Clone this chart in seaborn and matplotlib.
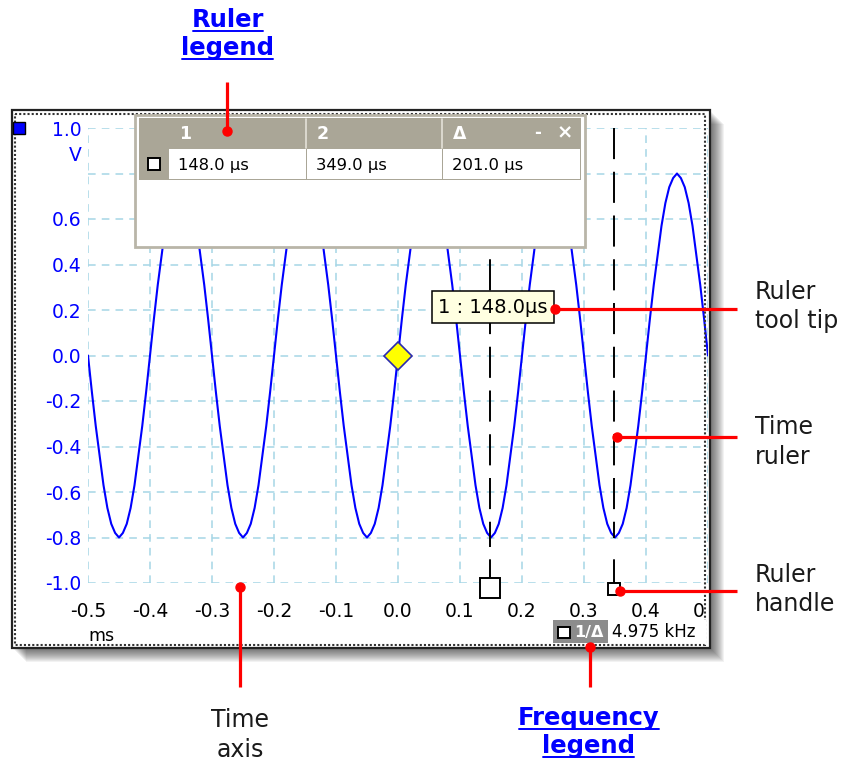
import matplotlib
matplotlib.use("Agg")
import matplotlib.pyplot as plt
import seaborn as sns
from matplotlib.patches import Rectangle
from matplotlib.transforms import Bbox, TransformedBbox

W, H = 849, 765

# waveform, one sample every 6.25 us
sample_step_ms = 0.00625
volts = [0.0, -0.16, -0.31, -0.44, -0.57, -0.67, -0.74, -0.78, -0.80, -0.78, -0.74, -0.67, -0.57, -0.44, -0.31, -0.16,
         0.0, 0.16, 0.31, 0.44, 0.57, 0.67, 0.74, 0.78, 0.80, 0.78, 0.74, 0.67, 0.57, 0.44, 0.31, 0.16,
         0.0, -0.16, -0.31, -0.44, -0.57, -0.67, -0.74, -0.78, -0.80, -0.78, -0.74, -0.67, -0.57, -0.44, -0.31, -0.16,
         0.0, 0.16, 0.31, 0.44, 0.57, 0.67, 0.74, 0.78, 0.80, 0.78, 0.74, 0.67, 0.57, 0.44, 0.31, 0.16,
         0.0, -0.16, -0.31, -0.44, -0.57, -0.67, -0.74, -0.78, -0.80, -0.78, -0.74, -0.67, -0.57, -0.44, -0.31, -0.16,
         0.0, 0.16, 0.31, 0.44, 0.57, 0.67, 0.74, 0.78, 0.80, 0.78, 0.74, 0.67, 0.57, 0.44, 0.31, 0.16,
         0.0, -0.16, -0.31, -0.44, -0.57, -0.67, -0.74, -0.78, -0.80, -0.78, -0.74, -0.67, -0.57, -0.44, -0.31, -0.16,
         0.0, 0.16, 0.31, 0.44, 0.57, 0.67, 0.74, 0.78, 0.80, 0.78, 0.74, 0.67, 0.57, 0.44, 0.31, 0.16,
         0.0, -0.16, -0.31, -0.44, -0.57, -0.67, -0.74, -0.78, -0.80, -0.78, -0.74, -0.67, -0.57, -0.44, -0.31, -0.16,
         0.0, 0.16, 0.31, 0.44, 0.57, 0.67, 0.74, 0.78, 0.80, 0.78, 0.74, 0.67, 0.57, 0.44, 0.31, 0.16,
         0.0]
time_ms = [-0.5 + i * sample_step_ms for i in range(len(volts))]

x_ticks = [-0.5, -0.4, -0.3, -0.2, -0.1, 0.0, 0.1, 0.2, 0.3, 0.4, 0.5]
x_labels = ["-0.5", "-0.4", "-0.3", "-0.2", "-0.1", "0.0", "0.1", "0.2", "0.3", "0.4", "0.5"]
y_ticks = [-1.0, -0.8, -0.6, -0.4, -0.2, 0.0, 0.2, 0.4, 0.6, 0.8, 1.0]
y_labels = ["-1.0", "-0.8", "-0.6", "-0.4", "-0.2", "0.0", "0.2", "0.4", "0.6", "", "1.0"]

trigger_time = 0.0
trigger_volt = 0.0
ruler_times = [0.148, 0.349]
ruler_header = ["1", "2", "\u0394"]
ruler_values = ["148.0 \u00b5s", "349.0 \u00b5s", "201.0 \u00b5s"]
tooltip_text = "1 : 148.0\u00b5s"
freq_label = "1/\u0394"
freq_value = "4.975 kHz"

BLUE = "#0000ff"
RED = "#ff0000"
GRID = "#a6d6e6"

sns.set_style("white")
plt.rcParams["font.family"] = ["DejaVu Sans"]

fig = plt.figure(figsize=(W / 100, H / 100), dpi=100)


def fx(px):
    return px / W


def fy(py):
    return 1 - py / H


# background: window frame + drop shadow
bg = fig.add_axes([0, 0, 1, 1], zorder=0)
bg.set_xlim(0, W)
bg.set_ylim(H, 0)
bg.axis("off")
for k in range(1, 15):
    bg.add_patch(Rectangle((12 + k, 110 + k), 698, 538, fc="black", ec="none", alpha=0.05))
bg.add_patch(Rectangle((12, 110), 698, 538, fc="white", ec="none"))

# scope plot
ax = fig.add_axes([fx(88), fy(583), fx(708) - fx(88), fy(128) - fy(583)], zorder=1)
sns.lineplot(x=time_ms, y=volts, ax=ax, color=BLUE, lw=1.5)
ax.set_xlim(-0.5, 0.5)
ax.set_ylim(-1.0, 1.0)
ax.set_xticks(x_ticks, labels=x_labels)
ax.set_yticks(y_ticks, labels=y_labels)
ax.tick_params(axis="both", length=0)
ax.tick_params(axis="y", colors=BLUE, labelsize=13.5, pad=4.5)
ax.tick_params(axis="x", colors="black", labelsize=13.5, pad=14)
ax.grid(True, color=GRID, lw=1.1, ls=(0, (5, 4)))
for s in ax.spines.values():
    s.set_visible(False)
ax.set_xlabel("")
ax.set_ylabel("")

# the last time label is cut by the window edge
clip = TransformedBbox(Bbox.from_extents(0, 0, fx(704), 1), fig.transFigure)
last = ax.xaxis.get_major_ticks()[-1].label1
last.set_clip_on(True)
last.set_clip_box(clip)

# time rulers
xt = ax.get_xaxis_transform()
ax.plot([ruler_times[0]] * 2, [1.0, 0.079], transform=xt, color="black", lw=1.4, ls=(0, (16, 6.5)), zorder=3)
ax.plot([ruler_times[1]] * 2, [1.0, 0.099], transform=xt, color="black", lw=1.4, ls=(0, (16, 6.5)), zorder=3)
ax.plot([ruler_times[0]] * 2, [0.0505, 0.011], transform=xt, color="black", lw=1.4, zorder=3, clip_on=False)
ax.plot([ruler_times[1]] * 2, [0.0505, 0.002], transform=xt, color="black", lw=1.4, zorder=3, clip_on=False)
ax.plot([ruler_times[0]], [-0.011], transform=xt, marker="s", ms=14, mfc="white", mec="black", mew=1.4,
        zorder=4, clip_on=False)
ax.plot([ruler_times[1]], [-0.013], transform=xt, marker="s", ms=8.5, mfc="white", mec="black", mew=1.4,
        zorder=4, clip_on=False)

# trigger marker
ax.plot([trigger_time], [trigger_volt], marker="D", ms=14, mfc="#ffff00", mec="#2a2ab0", mew=1.2, zorder=5)

# overlay: frame lines, legends, callouts
ov = fig.add_axes([0, 0, 1, 1], zorder=2)
ov.set_xlim(0, W)
ov.set_ylim(H, 0)
ov.axis("off")

ov.add_patch(Rectangle((12, 110), 698, 538, fc="none", ec="#222222", lw=1.6))
ov.add_patch(Rectangle((15.5, 114), 690, 530.5, fc="none", ec="#333333", lw=1.5, ls=(0, (1, 1))))
ov.add_patch(Rectangle((13, 122), 12, 12, fc=BLUE, ec="black", lw=1))
ov.text(82, 155, "V", ha="right", va="center", color=BLUE, fontsize=13.5)
ov.text(101, 636, "ms", ha="center", va="center", color="black", fontsize=12.5)

# ruler legend
ov.add_patch(Rectangle((135, 115), 450, 132, fc="white", ec="#b9b5a8", lw=2))
ov.add_patch(Rectangle((139, 118), 442, 62, fc="#aaa697", ec="none"))
cells = [(169, 306), (307, 442), (443, 580)]
for (c0, c1), head, val in zip(cells, ruler_header, ruler_values):
    ov.add_patch(Rectangle((c0, 149), c1 - c0, 30, fc="white", ec="none"))
    ov.text(c0 + 9, 165, val, ha="left", va="center", fontsize=11.8, color="black")
    ov.text(c0 + 10, 134, head, ha="left", va="center", fontsize=12.5, color="white", fontweight="bold")
for sx in [306.5, 442.5]:
    ov.plot([sx, sx], [119, 148], color="#e4e1d8", lw=1.2)
ov.text(538, 133, "-", ha="center", va="center", fontsize=12, color="white", fontweight="bold")
ov.text(565, 133, "\u00d7", ha="center", va="center", fontsize=14, color="white", fontweight="bold")
ov.add_patch(Rectangle((148, 158), 12, 12, fc="white", ec="black", lw=1.4))

# tooltip
ov.add_patch(Rectangle((432, 291), 122, 32, fc="#ffffe1", ec="black", lw=1.1))
ov.text(493, 307.5, tooltip_text, ha="center", va="center", fontsize=14, color="black")

# frequency legend
ov.add_patch(Rectangle((553, 620), 55, 23, fc="#8c8c8c", ec="none"))
ov.add_patch(Rectangle((608, 620), 98, 23, fc="white", ec="none"))
ov.add_patch(Rectangle((558, 627), 12, 11, fc="white", ec="black", lw=1.4))
ov.text(574, 632, freq_label, ha="left", va="center", fontsize=11.5, color="white", fontweight="bold")
ov.text(612, 632, freq_value, ha="left", va="center", fontsize=12, color="black")

# red callouts
callouts = [((227, 82), (227, 131)), ((737, 309), (555, 309)), ((737, 437), (617, 437)),
            ((737, 591), (620, 591)), ((240, 687), (240, 587)), ((590, 687), (590, 647))]
for (x0, y0), (x1, y1) in callouts:
    ov.plot([x0, x1], [y0, y1], color=RED, lw=2.3, solid_capstyle="butt")
    ov.plot([x1], [y1], marker="o", ms=6.5, color=RED)

TXT = "#1a1a1a"
for lines, x, ys in [(["Ruler", "tool tip"], 755, [292, 321]),
                     (["Time", "ruler"], 755, [427, 457]),
                     (["Ruler", "handle"], 755, [575, 604])]:
    for s, y in zip(lines, ys):
        ov.text(x, y, s, ha="left", va="center", fontsize=17, color=TXT)
for s, y in zip(["Time", "axis"], [720, 750]):
    ov.text(240, y, s, ha="center", va="center", fontsize=17, color=TXT)

links = []
for s, x, y in [("Ruler", 228, 20), ("legend", 228, 48), ("Frequency", 589, 718), ("legend", 589, 746)]:
    links.append(ov.text(x, y, s, ha="center", va="center", fontsize=17.5, color=BLUE, fontweight="bold"))

# underline the link-style labels
fig.canvas.draw()
renderer = fig.canvas.get_renderer()
inv = ov.transData.inverted()
for t in links:
    bb = t.get_window_extent(renderer)
    (ax0, ay0), (ax1, ay1) = inv.transform([[bb.x0, bb.y0], [bb.x1, bb.y1]])
    ov.plot([ax0 + 1, ax1 - 1], [ay0 - 1, ay0 - 1], color=BLUE, lw=1.4)

fig.savefig("out.png", dpi=100)
